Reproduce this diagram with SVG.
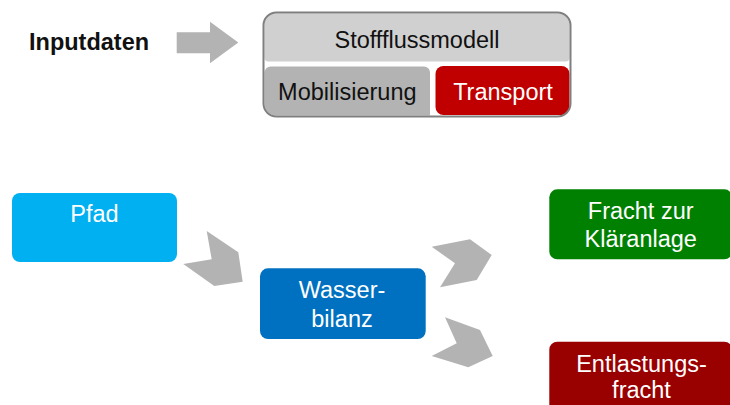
<svg xmlns="http://www.w3.org/2000/svg" width="730" height="405" viewBox="0 0 730 405">
<style>
text{font-family:"Liberation Sans",Arial,sans-serif;font-size:23.5px;text-anchor:middle}
.w{fill:#ffffff}
.k{fill:#111111}
.arr{fill:#b3b3b3;stroke:none}
</style>
<rect width="730" height="405" fill="#ffffff"/>
<g id="inputdaten">
<text x="29" y="50" style="text-anchor:start;font-weight:bold;font-size:23.5px" class="k">Inputdaten</text>
</g>
<g id="stoffflussmodell">
<rect x="263.5" y="12.5" width="307" height="104" rx="13" fill="#ffffff"/>
<path d="M264.5 25.5 a12 12 0 0 1 12 -12 h281 a12 12 0 0 1 12 12 v32 a4 4 0 0 1 -4 4 h-297 a4 4 0 0 1 -4 -4 z" fill="#d0d0d0"/>
<text x="417" y="48" class="k">Stoffflussmodell</text>
</g>
<g id="mobilisierung">
<path d="M264.5 72.5 a6 6 0 0 1 6 -6 h153.5 a6 6 0 0 1 6 6 v43 h-153.5 a12 12 0 0 1 -12 -12 z" fill="#b3b3b3"/>
<text x="347.3" y="100" class="k">Mobilisierung</text>
</g>
<g id="transport">
<rect x="435.5" y="66" width="134" height="49" rx="8" fill="#c00000"/>
<text x="503" y="100" class="w">Transport</text>
</g>
<rect x="263.5" y="12.5" width="307" height="104" rx="13" fill="none" stroke="#7f7f7f" stroke-width="2"/>
<g id="pfad">
<rect x="12" y="193" width="165" height="69" rx="8" fill="#00b0f0"/>
<text x="94.5" y="221.7" class="w">Pfad</text>
</g>
<g id="wasserbilanz">
<rect x="260" y="268.3" width="165.7" height="70.7" rx="8" fill="#0070c0"/>
<text x="342" y="298.3" class="w">Wasser-</text>
<text x="342" y="326.7" class="w">bilanz</text>
</g>
<g id="fracht-klaeranlage">
<rect x="549.3" y="189.3" width="183" height="70" rx="8" fill="#008000"/>
<text x="640.7" y="219" class="w">Fracht zur</text>
<text x="640.7" y="246.7" class="w">Kläranlage</text>
</g>
<g id="entlastungsfracht">
<rect x="549.3" y="341.7" width="183" height="75" rx="8" fill="#990000"/>
<text x="641.5" y="371.7" class="w">Entlastungs-</text>
<text x="641.5" y="398.3" class="w">fracht</text>
</g>
<g id="connectors">
<polygon class="arr" points="176.7,32.3 210,32.3 210,21.7 238.3,42.5 210,63.3 210,53.3 176.7,53.3"/>
<polygon class="arr" points="206.7,231 238.3,252.3 242.7,281.7 214.3,286 183.3,264 211.7,259.3"/>
<polygon class="arr" points="431.7,246.7 470,239.3 491.7,255 476.7,280 440,287.3 455,263.3"/>
<polygon class="arr" points="445,317.3 480,330 492.7,356 468.3,367.3 431.7,356 456.7,343.3"/>
</g>
</svg>
